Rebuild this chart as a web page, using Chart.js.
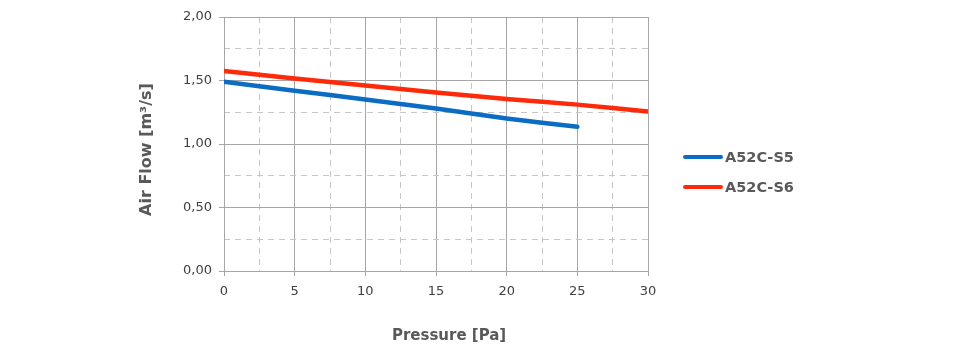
<!DOCTYPE html>
<html>
<head>
<meta charset="utf-8">
<script src="https://cdn.jsdelivr.net/npm/chart.js@4/dist/chart.umd.min.js"></script>
<style>
  html, body { margin: 0; padding: 0; background: #fff; }
  #wrap { position: relative; width: 960px; height: 346px; }
  #legend { position: absolute; left: 683px; top: 142px; font-family: "DejaVu Sans", sans-serif; font-weight: bold; font-size: 14.5px; color: #595959; }
  .item { display: flex; align-items: center; height: 30px; }
  .swatch { width: 40px; height: 4px; border-radius: 2px; margin-right: 2px; }
</style>
</head>
<body>
<div id="wrap">
  <canvas id="c" width="960" height="346"></canvas>
  <div id="legend"></div>
</div>
<script>
const pressure = [0, 5, 10, 15, 20, 25, 30];
const flowS5 = [1.49, 1.42, 1.35, 1.28, 1.20, 1.135];
const flowS6 = [1.575, 1.515, 1.46, 1.405, 1.355, 1.31, 1.255];
const seriesNames = ['A52C-S5', 'A52C-S6'];
const seriesColors = ['#0a6cc2', '#ff2a0a'];
const yTicks = [0, 0.5, 1.0, 1.5, 2.0];
const xTitle = 'Pressure [Pa]';
const yTitle = 'Air Flow [m³/s]';

const toPts = (vals) => vals.map((v, i) => ({ x: pressure[i], y: v }));

const font = { family: 'DejaVu Sans', size: 13 };
const major = '#a6a6a6';
const minor = '#c6c6c6';

const chart = new Chart(document.getElementById('c'), {
  type: 'line',
  data: {
    datasets: [
      { label: seriesNames[0], data: toPts(flowS5), borderColor: seriesColors[0], backgroundColor: seriesColors[0], borderWidth: 4.5, pointRadius: 0, tension: 0.2, borderCapStyle: 'round' },
      { label: seriesNames[1], data: toPts(flowS6), borderColor: seriesColors[1], backgroundColor: seriesColors[1], borderWidth: 4.5, pointRadius: 0, tension: 0.2, borderCapStyle: 'round' }
    ]
  },
  options: {
    responsive: false,
    animation: false,
    layout: { padding: { left: 135, right: 312, top: 17, bottom: 0 } },
    plugins: { legend: { display: false }, tooltip: { enabled: false } },
    scales: {
      x: {
        type: 'linear', min: 0, max: 30,
        ticks: { stepSize: 5, font: font, color: '#404040', padding: 8, maxRotation: 0 },
        grid: { color: major, lineWidth: 1, tickLength: 5, tickColor: major },
        border: { color: major, width: 1 },
        title: { display: true, text: '\u00a0\u00a0\u00a0\u00a0\u00a0' + xTitle, font: { family: 'DejaVu Sans', size: 15, weight: 'bold' }, color: '#595959', padding: { top: 4, bottom: 1 } },
        afterFit: (s) => { s.height = 75; }
      },
      x2: {
        type: 'linear', min: 0, max: 30, position: 'top',
        ticks: { display: false, stepSize: 2.5 },
        grid: { drawTicks: false, color: (ctx) => (ctx.tick && Math.abs(ctx.tick.value % 5) > 0.01) ? minor : 'rgba(0,0,0,0)' },
        border: { display: false, dash: [6, 5] },
        afterFit: (s) => { s.height = 0; }
      },
      y: {
        type: 'linear', min: 0, max: 2,
        afterBuildTicks: (s) => { s.ticks = yTicks.map(v => ({ value: v })); },
        ticks: { font: font, color: '#404040', padding: 7, callback: (v) => v.toFixed(2).replace('.', ',') },
        grid: { color: major, lineWidth: 1, tickLength: 5, tickColor: major },
        border: { color: major, width: 1 },
        title: { display: true, text: yTitle + '\u00a0\u00a0', font: { family: 'DejaVu Sans', size: 16, weight: 'bold' }, color: '#595959', padding: { top: 2, bottom: 4 } },
        afterFit: (s) => { s.width = 89; }
      },
      y2: {
        type: 'linear', min: 0, max: 2, position: 'right',
        ticks: { display: false, stepSize: 0.25 },
        grid: { drawTicks: false, color: (ctx) => (ctx.tick && Math.abs((ctx.tick.value * 100) % 50) > 0.5) ? minor : 'rgba(0,0,0,0)' },
        border: { display: false, dash: [6, 5] },
        afterFit: (s) => { s.width = 0; }
      }
    }
  }
});

const legend = document.getElementById('legend');
chart.data.datasets.forEach((ds) => {
  const item = document.createElement('div');
  item.className = 'item';
  const sw = document.createElement('span');
  sw.className = 'swatch';
  sw.style.background = ds.borderColor;
  const tx = document.createElement('span');
  tx.textContent = ds.label;
  item.appendChild(sw);
  item.appendChild(tx);
  legend.appendChild(item);
});
</script>
</body>
</html>
